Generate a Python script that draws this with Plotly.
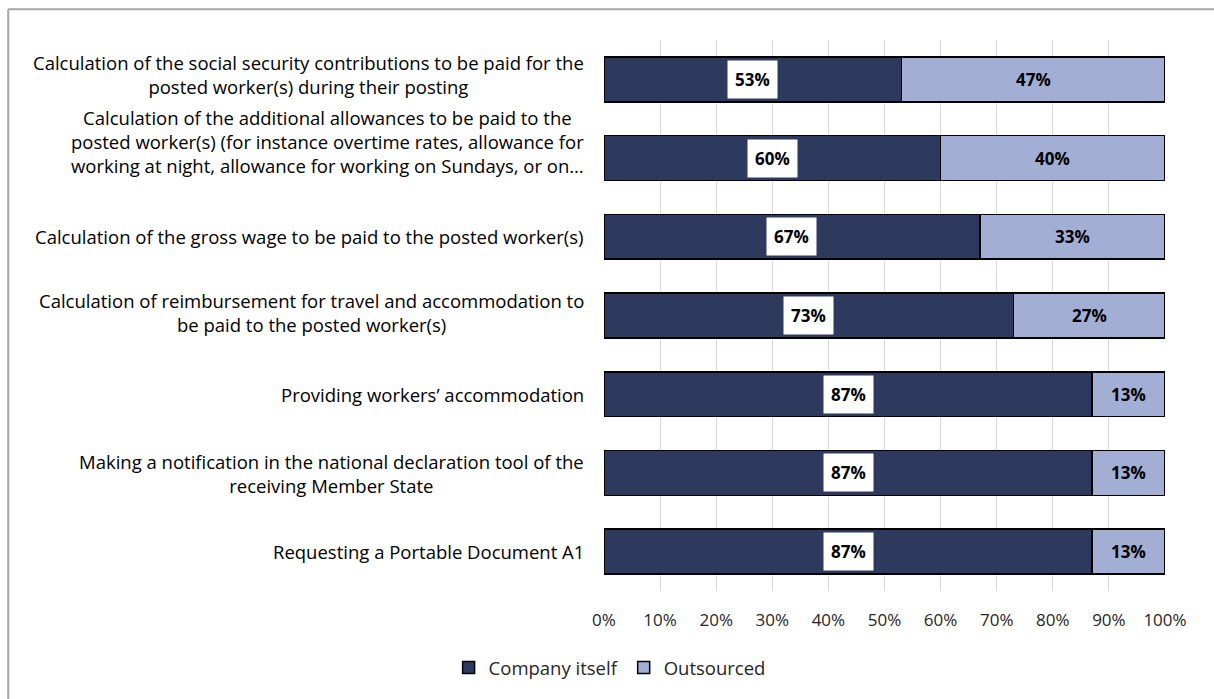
import plotly.graph_objects as go

# Tasks, top to bottom
tasks = [
    "Calculation of the social security contributions to be paid for the<br>posted worker(s) during their posting",
    "Calculation of the additional allowances to be paid to the<br>posted worker(s) (for instance overtime rates, allowance for<br>working at night, allowance for working on Sundays, or on…",
    "Calculation of the gross wage to be paid to the posted worker(s)",
    "Calculation of reimbursement for travel and accommodation to<br>be paid to the posted worker(s)",
    "Providing workers’ accommodation",
    "Making a notification in the national declaration tool of the<br>receiving Member State",
    "Requesting a Portable Document A1",
]
company_itself = [53, 60, 67, 73, 87, 87, 87]
outsourced = [47, 40, 33, 27, 13, 13, 13]
x_ticks = [0, 10, 20, 30, 40, 50, 60, 70, 80, 90, 100]
x_tick_labels = [f"{v}%" for v in x_ticks]

DARK = "#2d3a5e"
LIGHT = "#a2aed3"
FONT = "Open Sans"
LABEL_SIZE = 18.5
VALUE_SIZE = 17

# small vertical nudges for the category labels (px, positive = up)
label_nudge = [5, 17, 0, 3, 0, -1, 0]

ids = list(range(len(tasks)))

fig = go.Figure()
fig.add_trace(go.Bar(
    y=ids, x=company_itself, orientation="h", name="Company itself",
    marker=dict(color=DARK, line=dict(color="black", width=1.5)),
    width=0.57,
))
fig.add_trace(go.Bar(
    y=ids, x=outsourced, orientation="h", name="Outsourced",
    marker=dict(color=LIGHT, line=dict(color="black", width=1.5)),
    width=0.57,
))

annotations = []
# value labels
for i, (c, o) in enumerate(zip(company_itself, outsourced)):
    annotations.append(dict(
        x=c / 2, y=i, xref="x", yref="y", text=f"<b>{c}%</b>", showarrow=False,
        font=dict(family=FONT, size=VALUE_SIZE, color="black"),
        bgcolor="white", borderpad=7,
    ))
    annotations.append(dict(
        x=c + o / 2, y=i, xref="x", yref="y", text=f"<b>{o}%</b>", showarrow=False,
        font=dict(family=FONT, size=VALUE_SIZE, color="black"),
    ))
# category labels, lines centred within a right-aligned block
for i, t in enumerate(tasks):
    annotations.append(dict(
        x=0, y=i, xref="paper", yref="y", text=t, showarrow=False,
        xanchor="right", xshift=-18, yshift=label_nudge[i], align="center",
        font=dict(family=FONT, size=LABEL_SIZE, color="black"),
    ))

fig.update_layout(
    width=1214, height=699,
    margin=dict(l=604, r=49, t=40, b=106),
    barmode="stack",
    paper_bgcolor="white", plot_bgcolor="white",
    font=dict(family=FONT, size=LABEL_SIZE, color="#262626"),
    showlegend=True,
    legend=dict(
        orientation="h", x=0.01, xanchor="center", y=-0.105, yanchor="top",
        font=dict(family=FONT, size=LABEL_SIZE, color="#262626"),
        itemwidth=30, traceorder="normal",
    ),
    annotations=annotations,
    shapes=[
        dict(type="line", xref="paper", yref="paper", x0=-1.062, x1=1.2, y0=1.056, y1=1.056,
             line=dict(color="#a6a6a6", width=2)),
        dict(type="line", xref="paper", yref="paper", x0=-1.062, x1=-1.062, y0=1.056, y1=-0.3,
             line=dict(color="#a6a6a6", width=2)),
    ],
)
fig.update_xaxes(
    range=[0, 100], tickvals=x_ticks, ticktext=x_tick_labels,
    tickfont=dict(family=FONT, size=17, color="#262626"),
    showgrid=True, gridcolor="#d9d9d9", gridwidth=1,
    zeroline=False, showline=False, ticks="", ticklabelstandoff=17,
)
fig.update_yaxes(
    range=[6.5, -0.5], showticklabels=False, showgrid=False,
    zeroline=False, showline=False, ticks="",
)

fig.write_html("out.html")
